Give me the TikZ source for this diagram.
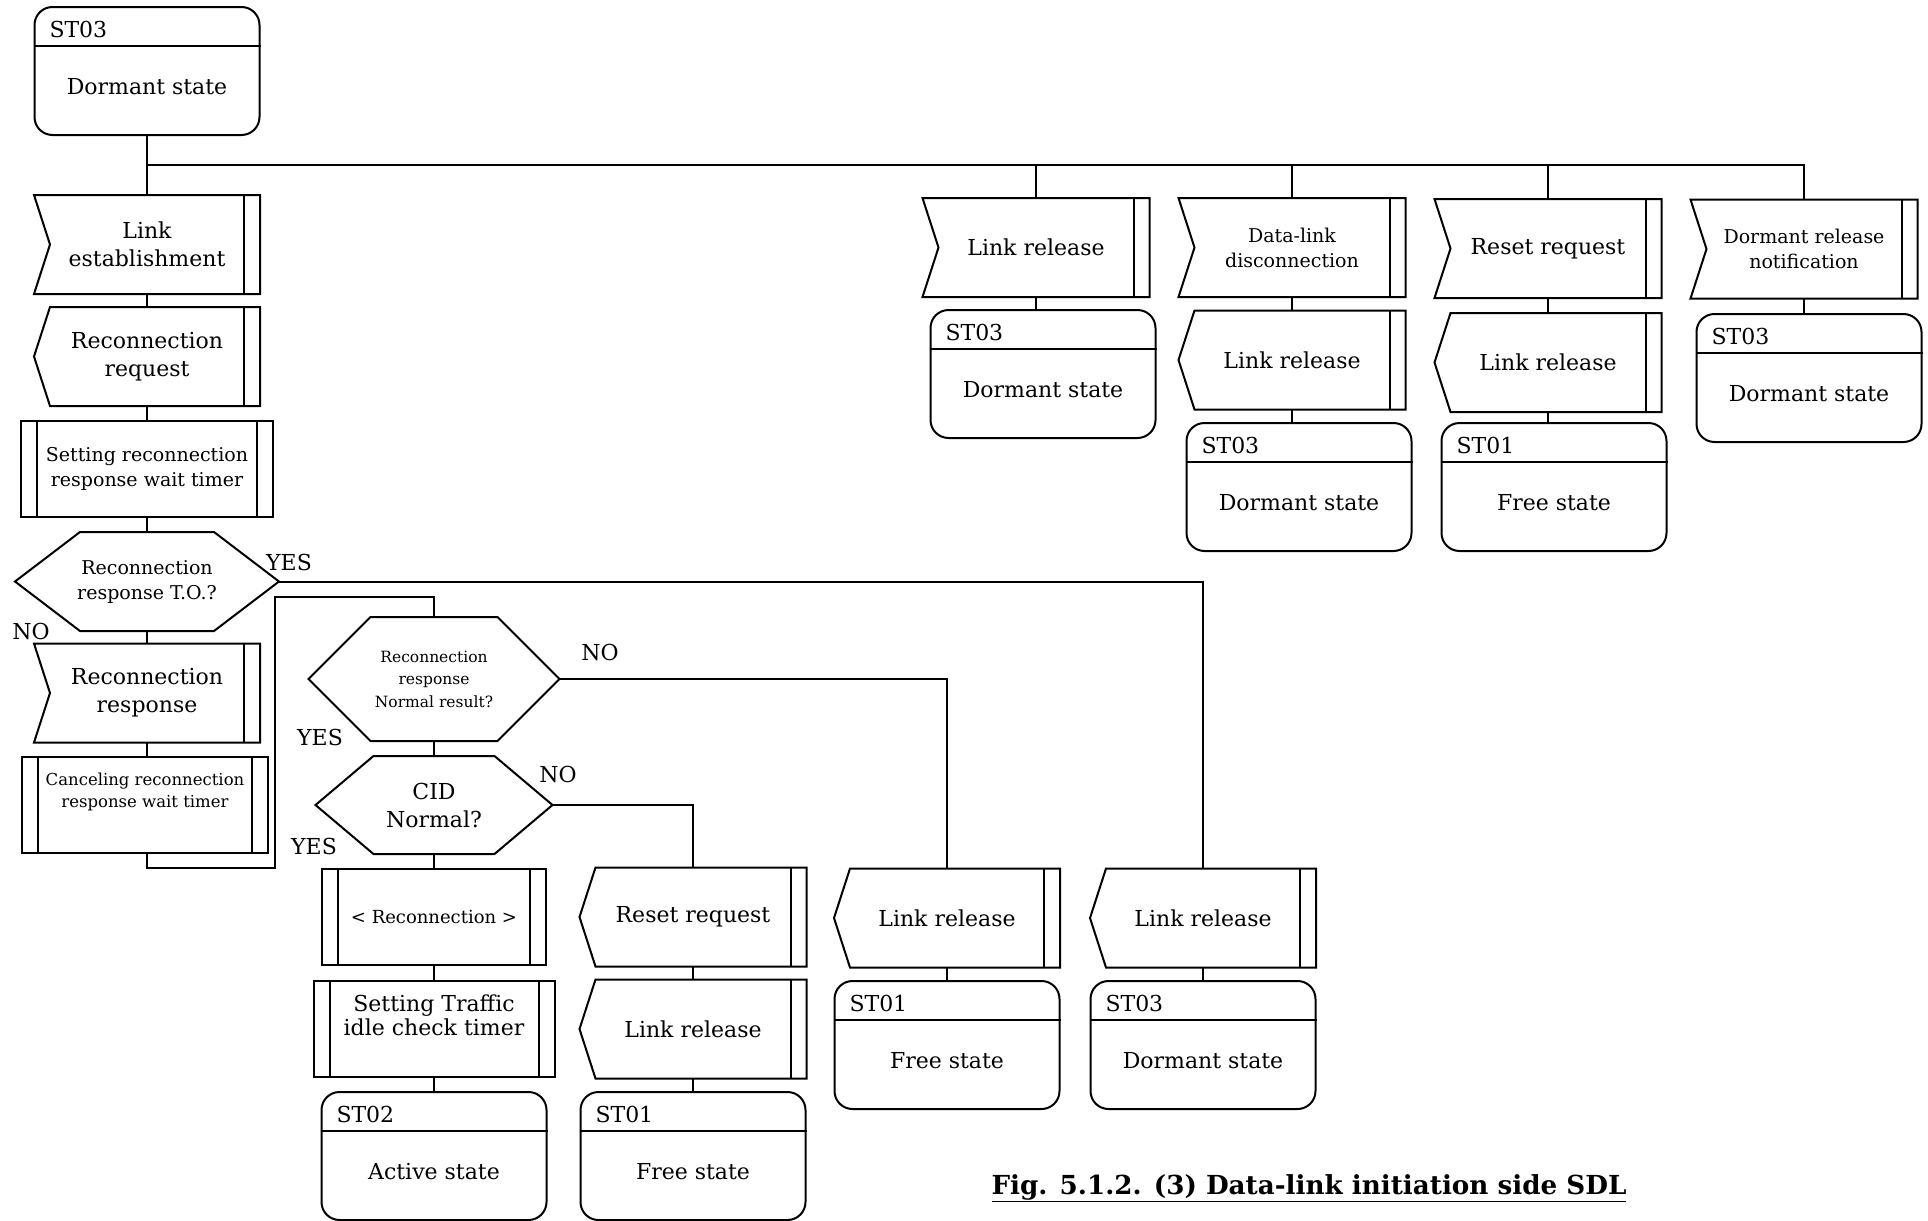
\documentclass[tikz,border=0pt]{standalone}
\usepackage{fontspec}
\setmainfont{DejaVu Serif}
\begin{document}
\begin{tikzpicture}[x=1pt,y=-1pt,line width=2pt,line join=miter]
\tikzset{
  shp/.style={draw=none,inner sep=0pt,align=center,minimum height=97pt,minimum width=224pt},
  stbox/.style={draw,rounded corners=18pt,minimum width=225pt,minimum height=128pt,inner sep=0pt},
  f22/.style={font=\fontsize{22}{28}\selectfont,align=center},
  f19/.style={font=\fontsize{19}{25}\selectfont,align=center},
  f18/.style={font=\fontsize{18}{24}\selectfont,align=center},
  f17/.style={font=\fontsize{16.5}{22}\selectfont,align=center},
  f15/.style={font=\fontsize{15.5}{22.5}\selectfont,align=center},
  lbl/.style={font=\fontsize{22}{28}\selectfont,inner sep=0pt}
}
% receive signal: notch on the left, bar on the right
\newcommand\SigIn[4]{%
  \node[shp,#2] (#1) at (#3) {#4};
  \draw (#1.north west) -- (#1.north east) -- (#1.south east) -- (#1.south west) -- ([xshift=16pt]#1.west) -- cycle;
  \draw ([xshift=-16pt]#1.north east) -- ([xshift=-16pt]#1.south east);}
% send signal: point on the left, bar on the right
\newcommand\SigOut[4]{%
  \node[shp,#2] (#1) at (#3) {#4};
  \draw (#1.west) -- ([xshift=16pt]#1.north west) -- (#1.north east) -- (#1.south east) -- ([xshift=16pt]#1.south west) -- cycle;
  \draw ([xshift=-16pt]#1.north east) -- ([xshift=-16pt]#1.south east);}
% procedure box with double side bars
\newcommand\Proc[4]{%
  \node[shp,draw,#2] (#1) at (#3) {#4};
  \draw ([xshift=17pt]#1.north west) -- ([xshift=17pt]#1.south west);
  \draw ([xshift=-17pt]#1.north east) -- ([xshift=-17pt]#1.south east);}
% decision hexagon
\newcommand\Dec[5]{%
  \node[shp,#2] (#1) at (#3) {#5};
  \draw (#1.west) -- ([xshift=#4]#1.north west) -- ([xshift=-#4]#1.north east) -- (#1.east)
    -- ([xshift=-#4]#1.south east) -- ([xshift=#4]#1.south west) -- cycle;}
% state box with code header
\newcommand\State[4]{%
  \node[stbox] (#1) at (#2) {};
  \draw ([yshift=-40pt]#1.north west) -- ([yshift=-40pt]#1.north east);
  \node[f22,inner sep=0pt,anchor=west] at ([xshift=15pt,yshift=-23pt]#1.north west) {#3};
  \node[f22] at ([yshift=-81pt]#1.north) {#4};}

\fill[white] (0,0) rectangle (1928,1221);
\useasboundingbox (0,0) rectangle (1928,1221);

% ---- main column
\State{s0}{147,71}{ST03}{Dormant state}
\SigIn{le}{f22}{147,244.5}{Link\\establishment}
\SigOut{rq}{f22}{147,356.5}{Reconnection\\request}
\Proc{ts}{f19,minimum width=252pt,minimum height=96pt}{147,469}{Setting reconnection\\response wait timer}
\Dec{d1}{f19,minimum width=262pt}{147,581.5}{65pt}{Reconnection\\response T.O.?}
\SigIn{rs}{f22}{147,693}{Reconnection\\response}
\Proc{tc}{minimum width=246pt,minimum height=96pt}{145,805}{}
\node[f17] (tct) at ([yshift=13pt]tc.center) {Canceling reconnection\\response wait timer};

% ---- normal result column
\Dec{d2}{f15,minimum width=249pt,minimum height=122pt}{434,679}{62pt}{Reconnection\\response\\Normal result?}
\Dec{d3}{f22,minimum width=235pt,minimum height=96pt}{434,805}{58pt}{CID\\Normal?}
\Proc{rc}{f18,minimum width=224pt,minimum height=96pt}{434,917}{< Reconnection >}
\Proc{tt}{minimum width=241pt,minimum height=96pt}{434,1029}{}
\node[font=\fontsize{22}{24}\selectfont,align=center] (ttt) at ([yshift=14pt]tt.center) {Setting Traffic\\idle check timer};
\State{s2}{434,1156}{ST02}{Active state}

\SigOut{rr}{f22,minimum width=225pt}{693,917}{Reset request}
\SigOut{lr0}{f22,minimum width=225pt}{693,1029}{Link release}
\State{s1}{693,1156}{ST01}{Free state}

\SigOut{lr1}{f22}{947,918}{Link release}
\State{s4}{947,1045}{ST01}{Free state}

\SigOut{lr2}{f22}{1203,918}{Link release}
\State{s5}{1203,1045}{ST03}{Dormant state}

% ---- branches off the dormant state
\SigIn{iA}{f22,minimum width=225pt}{1036,247.5}{Link release}
\State{sA}{1043,374}{ST03}{Dormant state}
\SigIn{iB}{f19,minimum width=225pt}{1292,247.5}{Data-link\\disconnection}
\SigOut{oB}{f22,minimum width=225pt}{1292,360}{Link release}
\State{sB}{1299,487}{ST03}{Dormant state}
\SigIn{iC}{f22,minimum width=225pt}{1548,248.5}{Reset request}
\SigOut{oC}{f22,minimum width=225pt}{1548,362.5}{Link release}
\State{sC}{1554,487}{ST01}{Free state}
\SigIn{iD}{f19,minimum width=225pt}{1804,249}{Dormant release\\notification}
\State{sD}{1809,378}{ST03}{Dormant state}

% ---- connectors
\coordinate (bus) at (147,165);
\foreach \a/\b in {s0/le,le/rq,rq/ts,ts/d1,d1/rs,rs/tc,d2/d3,d3/rc,rc/tt,tt/s2,rr/lr0,lr0/s1,lr1/s4,lr2/s5,iA/sA,iB/oB,oB/sB,iC/oC,oC/sC,iD/sD}
  \draw (\a.south) -- (\a.south |- \b.north);
\draw (bus) -| (iD.north);
\foreach \n in {iA,iB,iC} \draw (\n.north) -- (\n.north |- bus);
\coordinate (j1) at (275,868);
\coordinate (j2) at (275,597);
\draw (tc.south -| rs.south) |- (j1) -- (j2) -| (d2.north);
\draw (d1.east) -| (lr2.north);
\draw (d2.east) -| (lr1.north);
\draw (d3.east) -| (rr.north);

% ---- branch labels
\node[lbl] (yes1) at (289,562) {YES};
\node[lbl] (no1) at (31,631) {NO};
\node[lbl] (no2) at (600,652) {NO};
\node[lbl] (yes2) at (320,737) {YES};
\node[lbl] (no3) at (558,774) {NO};
\node[lbl] (yes3) at (314,846) {YES};

\node[font=\fontsize{26.2}{30}\selectfont\bfseries] (cap) at (1309,1188) {\underline{Fig. 5.1.2. (3) Data-link initiation side SDL}};
\end{tikzpicture}
\end{document}
